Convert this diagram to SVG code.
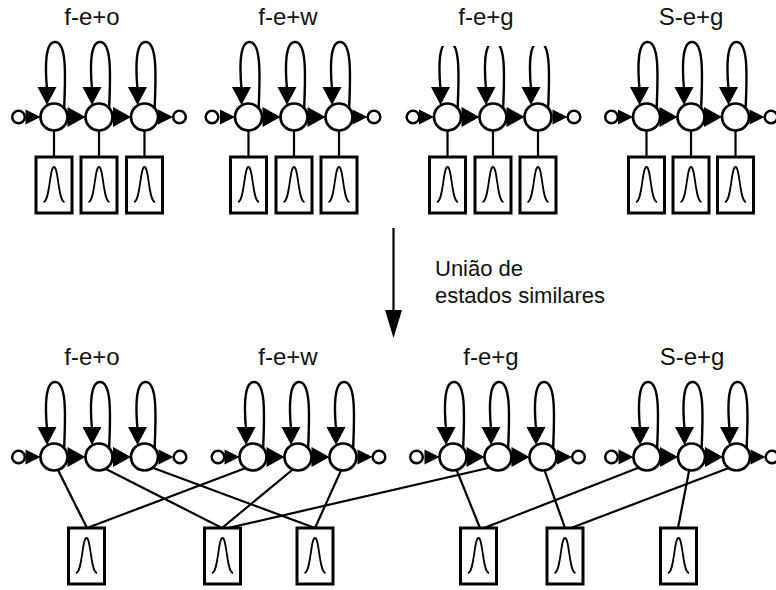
<svg xmlns="http://www.w3.org/2000/svg" width="776" height="590" viewBox="0 0 776 590">
<style>
.lbl{font-family:"Liberation Sans",Arial,sans-serif;font-size:24px;fill:#111;text-anchor:middle}
.note{font-family:"Liberation Sans",Arial,sans-serif;font-size:22px;fill:#111}
.st{fill:#fff;stroke:#000;stroke-width:2.7}
.io{fill:#fff;stroke:#000;stroke-width:2.5}
.loop{fill:none;stroke:#000;stroke-width:2.4}
.head{fill:#000}
.link{stroke:#000;stroke-width:2.2;fill:none}
.box{fill:#fff;stroke:#000;stroke-width:3}
.pdf{fill:none;stroke:#000;stroke-width:1.8}
</style>
<defs>
  <!-- self transition drawn relative to the state centre -->
  <g id="selfloop">
    <path class="loop" d="M10 -6 C12 -48 12 -75 1 -75 C-9 -75 -9 -50 -7 -28"/>
    <polygon class="head" points="-16.5,-30 2.5,-30 -7,-12"/>
  </g>
  <!-- forward transition heads, tip at origin -->
  <polygon id="step" class="head" points="-18,-10 -18,10 0,0"/>
  <polygon id="stepsm" class="head" points="-15,-7.5 -15,7.5 0,0"/>
  <!-- output density box, top centre at origin -->
  <g id="pdfbox">
    <rect class="box" x="-18" y="0" width="36" height="56"/>
    <path class="pdf" d="M-10.5 45 C-4 44 -4.5 10 0 10 C4.5 10 4 44 10.5 45"/>
  </g>
  <clipPath id="cutTop"><rect x="400" y="46" width="200" height="200"/></clipPath>
</defs>

<!-- ===== upper row: separate models ===== -->
<g id="top-feo">
  <text class="lbl" x="92" y="25">f-e+o</text>
  <use href="#selfloop" x="54" y="117"/><use href="#selfloop" x="99" y="117"/><use href="#selfloop" x="144.5" y="117"/>
  <line class="link" x1="54" y1="125" x2="54" y2="157"/><line class="link" x1="99" y1="125" x2="99" y2="157"/><line class="link" x1="144.5" y1="125" x2="144.5" y2="157"/>
  <circle class="io" cx="18.5" cy="117" r="6.3"/>
  <circle class="st" cx="54" cy="117" r="13.5"/><circle class="st" cx="99" cy="117" r="13.5"/><circle class="st" cx="144.5" cy="117" r="13.5"/>
  <circle class="io" cx="179.5" cy="117" r="6.3"/>
  <use href="#stepsm" x="40.5" y="117"/><use href="#step" x="85.5" y="117"/><use href="#step" x="131" y="117"/><use href="#stepsm" x="173" y="117"/>
  <use href="#pdfbox" x="54" y="157"/><use href="#pdfbox" x="99" y="157"/><use href="#pdfbox" x="144.5" y="157"/>
</g>

<g id="top-few">
  <text class="lbl" x="288" y="25">f-e+w</text>
  <use href="#selfloop" x="248.5" y="117"/><use href="#selfloop" x="294" y="117"/><use href="#selfloop" x="339" y="117"/>
  <line class="link" x1="248.5" y1="125" x2="248.5" y2="157"/><line class="link" x1="294" y1="125" x2="294" y2="157"/><line class="link" x1="339" y1="125" x2="339" y2="157"/>
  <circle class="io" cx="212" cy="117" r="6.3"/>
  <circle class="st" cx="248.5" cy="117" r="13.5"/><circle class="st" cx="294" cy="117" r="13.5"/><circle class="st" cx="339" cy="117" r="13.5"/>
  <circle class="io" cx="374" cy="117" r="6.3"/>
  <use href="#stepsm" x="235" y="117"/><use href="#step" x="280.5" y="117"/><use href="#step" x="325.5" y="117"/><use href="#stepsm" x="367.5" y="117"/>
  <use href="#pdfbox" x="248.5" y="157"/><use href="#pdfbox" x="294" y="157"/><use href="#pdfbox" x="339" y="157"/>
</g>

<g id="top-feg">
  <text class="lbl" x="486" y="25">f-e+g</text>
  <g clip-path="url(#cutTop)">
    <use href="#selfloop" x="447.5" y="117"/><use href="#selfloop" x="493" y="117"/><use href="#selfloop" x="538" y="117"/>
  </g>
  <line class="link" x1="447.5" y1="125" x2="447.5" y2="157"/><line class="link" x1="493" y1="125" x2="493" y2="157"/><line class="link" x1="538" y1="125" x2="538" y2="157"/>
  <circle class="io" cx="413" cy="117" r="6.3"/>
  <circle class="st" cx="447.5" cy="117" r="13.5"/><circle class="st" cx="493" cy="117" r="13.5"/><circle class="st" cx="538" cy="117" r="13.5"/>
  <circle class="io" cx="574" cy="117" r="6.3"/>
  <use href="#stepsm" x="434" y="117"/><use href="#step" x="479.5" y="117"/><use href="#step" x="524.5" y="117"/><use href="#stepsm" x="567.5" y="117"/>
  <use href="#pdfbox" x="447.5" y="157"/><use href="#pdfbox" x="493" y="157"/><use href="#pdfbox" x="538" y="157"/>
</g>

<g id="top-seg">
  <text class="lbl" x="691" y="25">S-e+g</text>
  <use href="#selfloop" x="646.5" y="117"/><use href="#selfloop" x="691" y="117"/><use href="#selfloop" x="735.5" y="117"/>
  <line class="link" x1="646.5" y1="125" x2="646.5" y2="157"/><line class="link" x1="691" y1="125" x2="691" y2="157"/><line class="link" x1="735.5" y1="125" x2="735.5" y2="157"/>
  <circle class="io" cx="611.5" cy="117" r="6.3"/>
  <circle class="st" cx="646.5" cy="117" r="13.5"/><circle class="st" cx="691" cy="117" r="13.5"/><circle class="st" cx="735.5" cy="117" r="13.5"/>
  <circle class="io" cx="771" cy="117" r="6.3"/>
  <use href="#stepsm" x="633" y="117"/><use href="#step" x="677.5" y="117"/><use href="#step" x="722" y="117"/><use href="#stepsm" x="764.5" y="117"/>
  <use href="#pdfbox" x="646.5" y="157"/><use href="#pdfbox" x="691" y="157"/><use href="#pdfbox" x="735.5" y="157"/>
</g>

<!-- ===== merge step ===== -->
<g id="merge">
  <line class="link" x1="393.5" y1="228" x2="393.5" y2="312"/>
  <polygon class="head" points="385,310 402,310 393.5,338"/>
  <text class="note" x="435" y="276">União de</text>
  <text class="note" x="435" y="303">estados similares</text>
</g>

<!-- ===== lower row: tied output densities ===== -->
<g id="ties">
  <line class="link" x1="56" y1="466" x2="87" y2="528"/>
  <line class="link" x1="100" y1="466" x2="222" y2="528"/>
  <line class="link" x1="148" y1="466" x2="315" y2="528"/>
  <line class="link" x1="251" y1="466" x2="87" y2="528"/>
  <line class="link" x1="297" y1="466" x2="222" y2="528"/>
  <line class="link" x1="343" y1="466" x2="315" y2="528"/>
  <line class="link" x1="455" y1="466" x2="480" y2="528"/>
  <line class="link" x1="497" y1="466" x2="228" y2="528"/>
  <line class="link" x1="543" y1="466" x2="565" y2="528"/>
  <line class="link" x1="643" y1="466" x2="484" y2="528"/>
  <line class="link" x1="690" y1="466" x2="678" y2="528"/>
  <line class="link" x1="734" y1="466" x2="571" y2="528"/>
</g>

<g id="bot-feo">
  <text class="lbl" x="92" y="365">f-e+o</text>
  <use href="#selfloop" x="54" y="457"/><use href="#selfloop" x="99" y="457"/><use href="#selfloop" x="144.5" y="457"/>
  <circle class="io" cx="18.5" cy="457" r="6.3"/>
  <circle class="st" cx="54" cy="457" r="13.5"/><circle class="st" cx="99" cy="457" r="13.5"/><circle class="st" cx="144.5" cy="457" r="13.5"/>
  <circle class="io" cx="180" cy="457" r="6.3"/>
  <use href="#stepsm" x="40.5" y="457"/><use href="#step" x="85.5" y="457"/><use href="#step" x="131" y="457"/><use href="#stepsm" x="173.5" y="457"/>
</g>

<g id="bot-few">
  <text class="lbl" x="288" y="365">f-e+w</text>
  <use href="#selfloop" x="253" y="457"/><use href="#selfloop" x="298" y="457"/><use href="#selfloop" x="343" y="457"/>
  <circle class="io" cx="218" cy="457" r="6.3"/>
  <circle class="st" cx="253" cy="457" r="13.5"/><circle class="st" cx="298" cy="457" r="13.5"/><circle class="st" cx="343" cy="457" r="13.5"/>
  <circle class="io" cx="379" cy="457" r="6.3"/>
  <use href="#stepsm" x="239.5" y="457"/><use href="#step" x="284.5" y="457"/><use href="#step" x="329.5" y="457"/><use href="#stepsm" x="372.5" y="457"/>
</g>

<g id="bot-feg">
  <text class="lbl" x="491" y="365">f-e+g</text>
  <use href="#selfloop" x="453" y="457"/><use href="#selfloop" x="498" y="457"/><use href="#selfloop" x="543" y="457"/>
  <circle class="io" cx="416.5" cy="457" r="6.3"/>
  <circle class="st" cx="453" cy="457" r="13.5"/><circle class="st" cx="498" cy="457" r="13.5"/><circle class="st" cx="543" cy="457" r="13.5"/>
  <circle class="io" cx="578.5" cy="457" r="6.3"/>
  <use href="#stepsm" x="439.5" y="457"/><use href="#step" x="484.5" y="457"/><use href="#step" x="529.5" y="457"/><use href="#stepsm" x="572" y="457"/>
</g>

<g id="bot-seg">
  <text class="lbl" x="692" y="365">S-e+g</text>
  <use href="#selfloop" x="647" y="457"/><use href="#selfloop" x="691.5" y="457"/><use href="#selfloop" x="736.5" y="457"/>
  <circle class="io" cx="611.5" cy="457" r="6.3"/>
  <circle class="st" cx="647" cy="457" r="13.5"/><circle class="st" cx="691.5" cy="457" r="13.5"/><circle class="st" cx="736.5" cy="457" r="13.5"/>
  <circle class="io" cx="772" cy="457" r="6.3"/>
  <use href="#stepsm" x="633.5" y="457"/><use href="#step" x="678" y="457"/><use href="#step" x="723" y="457"/><use href="#stepsm" x="765.5" y="457"/>
</g>

<!-- shared densities -->
<g id="pdf-a"><use href="#pdfbox" x="86.5" y="528"/></g>
<g id="pdf-b"><use href="#pdfbox" x="222.5" y="528"/></g>
<g id="pdf-c"><use href="#pdfbox" x="315" y="528"/></g>
<g id="pdf-d"><use href="#pdfbox" x="478.5" y="528"/></g>
<g id="pdf-e"><use href="#pdfbox" x="565" y="528"/></g>
<g id="pdf-f"><use href="#pdfbox" x="678.5" y="528"/></g>
</svg>
